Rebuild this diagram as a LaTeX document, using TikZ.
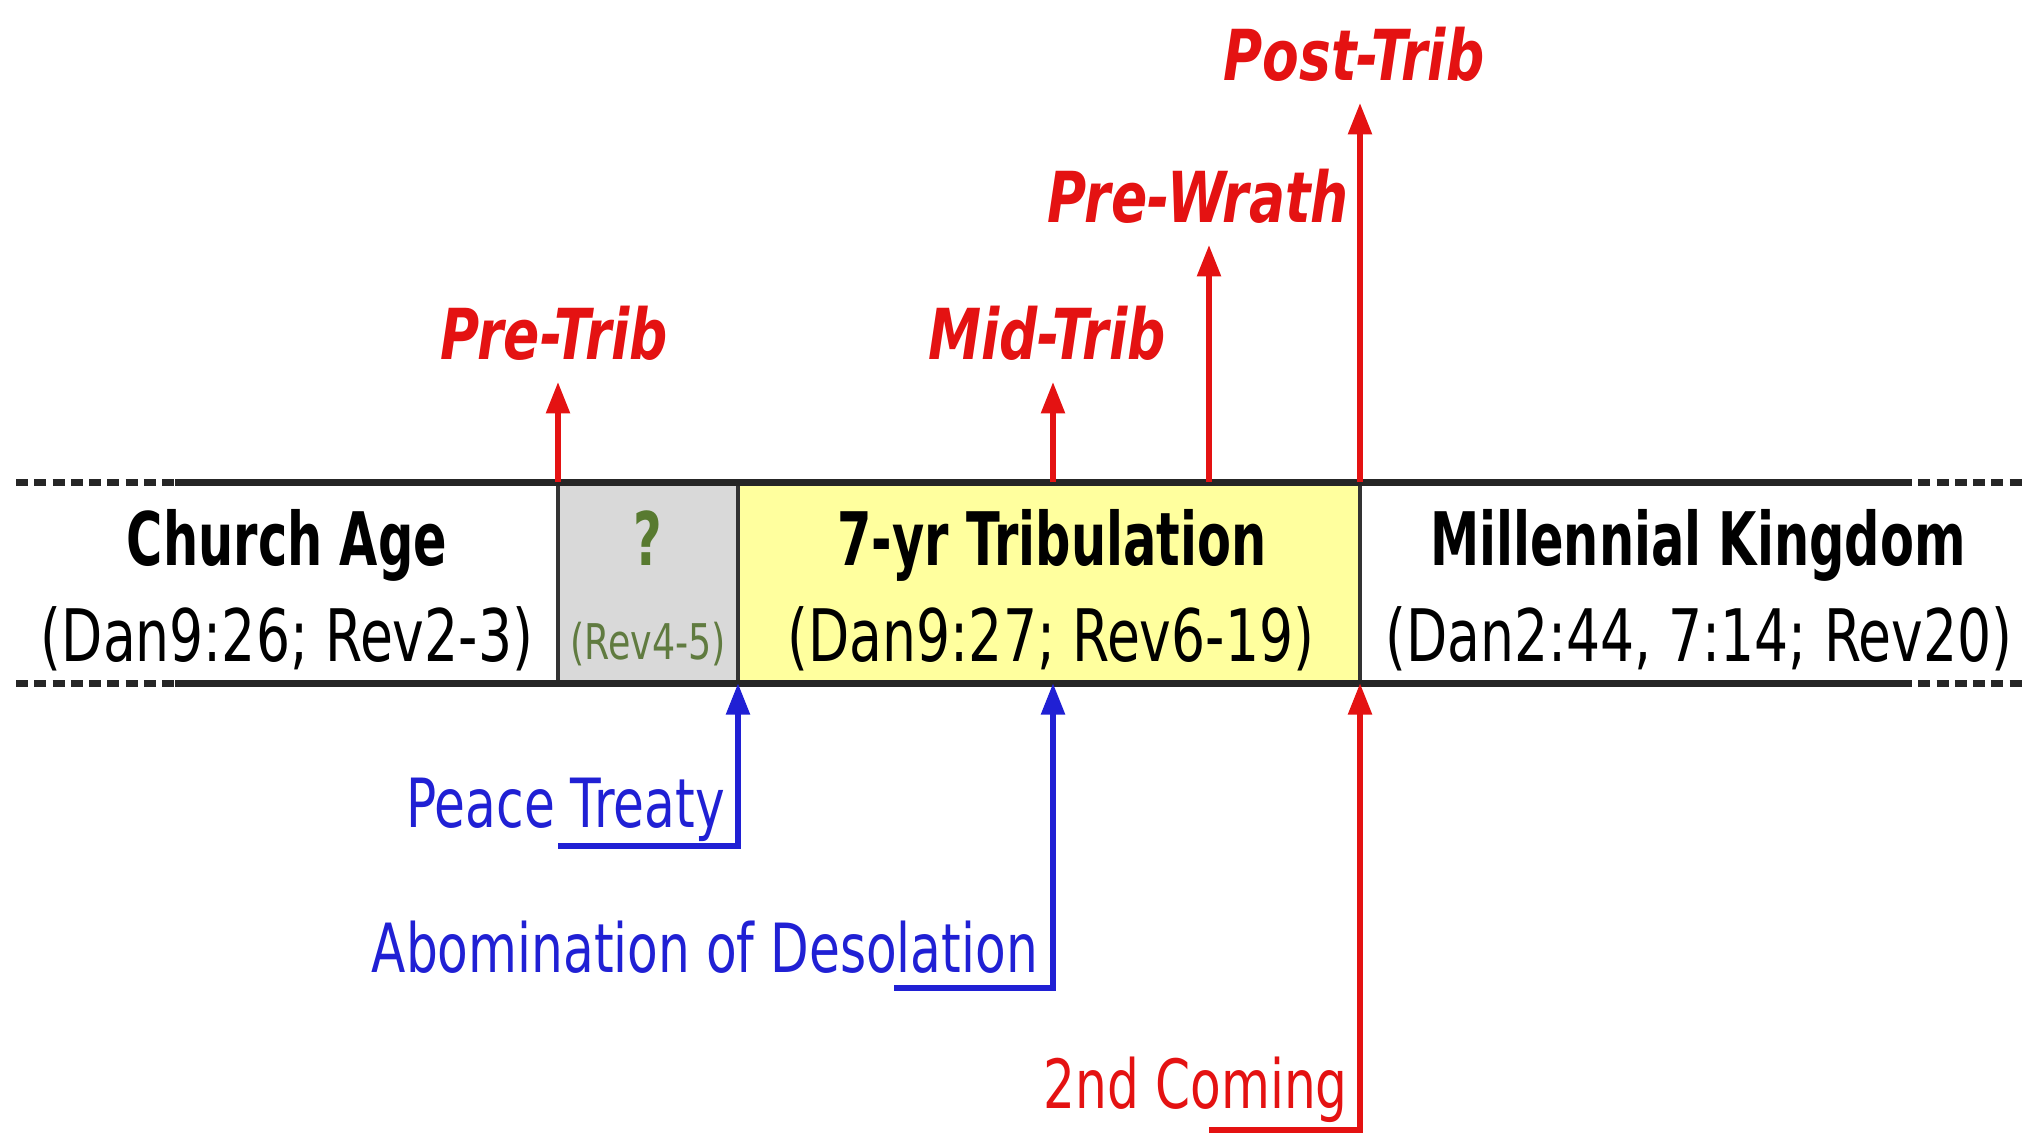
\documentclass[tikz,border=0pt]{standalone}
\usepackage{fontspec}
\setmainfont{DejaVu Sans}[FakeStretch=0.74,
    BoldFeatures={FakeStretch=0.67},
    BoldItalicFeatures={FakeStretch=0.76}]
\usetikzlibrary{arrows.meta}
\usetikzlibrary{calc}
\tikzset{>={Triangle[length=9pt,width=6.5pt]}}
\definecolor{viewred}{RGB}{228,18,18}
\definecolor{eventblue}{RGB}{32,32,212}
\definecolor{tribyellow}{RGB}{255,255,158}
\definecolor{gapgray}{RGB}{217,217,217}
\definecolor{gapgreen}{RGB}{88,122,48}
\tikzset{
    period/.style={inner sep=1pt, font=\fontsize{21}{24}\selectfont\bfseries},
    refs/.style={inner sep=1pt, font=\fontsize{20.6}{24}\selectfont},
    view/.style={inner sep=1pt, text=viewred, font=\fontsize{20}{24}\selectfont\bfseries\itshape},
    event/.style={inner sep=1pt, font=\fontsize{19.3}{24}\selectfont},
    band/.style={line width=2pt, black!85},
    bandend/.style={band, dash pattern=on 3.4pt off 1.8pt},
    pointer/.style={line width=1.7pt, ->},
}

\begin{document}
\begin{tikzpicture}
    \def\ytop{-4.82}
    \def\ybot{-6.83}
    \def\xa{5.58}
    \def\xb{7.38}
    \def\xm{10.53}
    \def\xw{12.09}
    \def\xc{13.60}

    \useasboundingbox (0,0) rectangle (20.26,-11.36);

    \coordinate (preT) at (\xa,\ytop);
    \coordinate (midT) at (\xm,\ytop);
    \coordinate (wrathT) at (\xw,\ytop);
    \coordinate (postT) at (\xc,\ytop);

    \coordinate (peaceB) at (\xb,\ybot);
    \coordinate (abomB) at (\xm,\ybot);
    \coordinate (comingB) at (\xc,\ybot);

    \coordinate (peaceL) at (\xa,-8.46);
    \coordinate (peaceC) at (\xb,-8.46);
    \coordinate (abomL) at (8.94,-9.88);
    \coordinate (abomC) at (\xm,-9.88);
    \coordinate (comingL) at (\xw,-11.30);
    \coordinate (comingC) at (\xc,-11.30);

    % the band
    \fill[gapgray] (\xa,\ytop) rectangle (\xb,\ybot);
    \fill[tribyellow] (\xb,\ytop) rectangle (\xc,\ybot);
    \draw[line width=1.4pt, black!80] (\xa,\ytop) -- (\xa,\ybot);
    \draw[line width=1.4pt, black!80] (\xb,\ytop) -- (\xb,\ybot);
    \draw[line width=1.4pt, black!80] (\xc,\ytop) -- (\xc,\ybot);

    \draw[band] (1.75,\ytop) -- (19.00,\ytop);
    \draw[band] (1.75,\ybot) -- (19.00,\ybot);
    \draw[bandend] (0.16,\ytop) -- (1.75,\ytop);
    \draw[bandend] (0.16,\ybot) -- (1.75,\ybot);
    \draw[bandend] (19.00,\ytop) -- (20.22,\ytop);
    \draw[bandend] (19.00,\ybot) -- (20.22,\ybot);

    % Periods
    \node[period, anchor=base] (church) at (2.87,-5.65) {Church Age};
    \node[refs, anchor=base] (churchref) at (2.87,-6.61) {(Dan9:26; Rev2-3)};
    \node[period, anchor=base, text=gapgreen] (gap) at (6.48,-5.65) {?};
    \node[anchor=base, inner sep=1pt, text=gapgreen!80!gray, font=\fontsize{14}{16}\selectfont] (gapref) at (6.48,-6.59) {(Rev4-5)};
    \node[period, anchor=base] (trib) at (10.52,-5.65) {7-yr Tribulation};
    \node[refs, anchor=base] (tribref) at (10.51,-6.61) {(Dan9:27; Rev6-19)};
    \node[period, anchor=base] (kingdom) at (16.98,-5.65) {Millennial Kingdom};
    \node[refs, anchor=base] (kingdomref) at (16.99,-6.61) {(Dan2:44, 7:14; Rev20)};

    % Labels
    \node[view, anchor=base] (pretrib) at (5.54,-3.59) {Pre-Trib};
    \node[view, anchor=base] (midtrib) at (10.47,-3.59) {Mid-Trib};
    \node[view, anchor=base] (prewrath) at (11.98,-2.22) {Pre-Wrath};
    \node[view, anchor=base] (posttrib) at (13.54,-0.80) {Post-Trib};

    \draw[viewred, pointer, shorten >=5pt] (preT) -- (preT |- pretrib.south);
    \draw[viewred, pointer, shorten >=5pt] (midT) -- (midT |- midtrib.south);
    \draw[viewred, pointer, shorten >=5pt] (wrathT) -- (wrathT |- prewrath.south);
    \draw[viewred, pointer, shorten >=5pt] (postT) -- (postT |- posttrib.south);

    \node[event, anchor=base east, text=eventblue] (peace) at (7.29,-8.27) {Peace Treaty};
    \node[event, anchor=base east, text=eventblue] (abom) at (10.42,-9.72) {Abomination of Desolation};
    \node[event, anchor=base east, text=viewred] (coming) at (13.52,-11.08) {2nd Coming};

    \draw[eventblue, pointer] (peaceL) -- (peaceC) -- (peaceB);
    \draw[eventblue, pointer] (abomL) -- (abomC) -- (abomB);
    \draw[viewred, pointer] (comingL) -- (comingC) -- (comingB);
\end{tikzpicture}
\end{document}
